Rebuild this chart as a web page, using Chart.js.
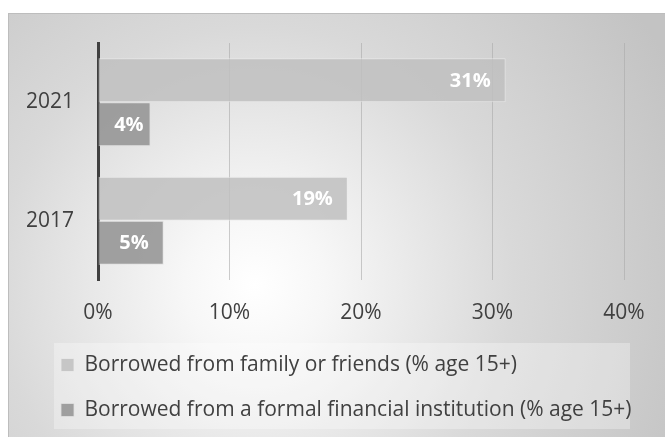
<!DOCTYPE html>
<html>
<head>
<meta charset="utf-8">
<script src="https://cdn.jsdelivr.net/npm/chart.js@4/dist/chart.umd.min.js"></script>
<style>
  html, body { margin: 0; padding: 0; background: #fff; }
  #wrap { width: 665px; height: 437px; position: relative; }
</style>
</head>
<body>
<div id="wrap"><canvas id="borrowChart" width="665" height="437"></canvas></div>
<script>
// Chart data
const years = ['2021', '2017'];
const familyFriends = [31, 19];
const formalInstitution = [4, 5];
const seriesNames = [
  'Borrowed from family or friends (% age 15+)',
  'Borrowed from a formal financial institution (% age 15+)'
];
const xTicks = [0, 10, 20, 30, 40];

const FONT = '"Open Sans", Lato, sans-serif';
const LEGEND_PAD = 24;

// grey panel with radial gradient behind everything
const panelBg = {
  id: 'panelBg',
  afterLayout(chart) {
    // push the legend rows right so they line up under the plot
    const lg = chart.legend;
    lg.left += 21;
    lg.right += 21;
  },
  beforeDraw(chart) {
    const ctx = chart.ctx;
    ctx.save();
    const g = ctx.createRadialGradient(255, 285, 0, 255, 285, 470);
    g.addColorStop(0, '#ffffff');
    g.addColorStop(0.15, '#f7f7f7');
    g.addColorStop(0.55, '#d9d9d9');
    g.addColorStop(1, '#c3c3c3');
    ctx.fillStyle = g;
    ctx.fillRect(8, 13, chart.width - 8, chart.height - 13);
    ctx.strokeStyle = '#bdbdbd';
    ctx.lineWidth = 1;
    ctx.strokeRect(8.5, 13.5, chart.width + 10, chart.height + 10);

    // legend frame
    ctx.fillStyle = 'rgba(255,255,255,0.3)';
    ctx.fillRect(54, 343, 576, 86);
    ctx.restore();
  }
};

// white value labels at inside end of bars
const barLabels = {
  id: 'barLabels',
  afterDatasetsDraw(chart) {
    const ctx = chart.ctx;
    ctx.save();
    ctx.font = 'bold 20px ' + FONT;
    ctx.fillStyle = '#ffffff';
    ctx.textAlign = 'right';
    ctx.textBaseline = 'middle';
    chart.data.datasets.forEach((ds, i) => {
      chart.getDatasetMeta(i).data.forEach((bar, j) => {
        const w = bar.x - bar.base;
        const x = w > 60 ? bar.x - 15 : bar.x - 7;
        ctx.fillText(ds.data[j] + '%', x, bar.y + 1);
      });
    });
    ctx.restore();
  }
};

new Chart(document.getElementById('borrowChart'), {
  type: 'bar',
  data: {
    labels: years,
    datasets: [
      {
        label: seriesNames[0],
        data: familyFriends,
        backgroundColor: 'rgba(192,192,192,0.85)',
        borderColor: 'rgba(235,235,235,0.8)',
        borderWidth: 1,
        categoryPercentage: 0.743,
        barPercentage: 1
      },
      {
        label: seriesNames[1],
        data: formalInstitution,
        backgroundColor: 'rgba(148,148,148,0.88)',
        borderColor: 'rgba(225,225,225,0.8)',
        borderWidth: 1,
        categoryPercentage: 0.743,
        barPercentage: 1
      }
    ]
  },
  options: {
    indexAxis: 'y',
    responsive: false,
    animation: false,
    devicePixelRatio: 1,
    layout: { padding: { left: 16, right: 41, top: 43, bottom: 6.5 } },
    scales: {
      x: {
        min: 0,
        max: 40,
        afterBuildTicks(scale) { scale.ticks = xTicks.map(v => ({ value: v })); },
        afterFit(scale) { scale.height = 50.5; },
        grid: { color: 'rgba(170,170,170,0.6)', lineWidth: 1, drawTicks: false },
        border: { display: false },
        ticks: {
          padding: 20,
          color: '#404040',
          font: { family: FONT, size: 21 },
          callback: v => v + '%'
        }
      },
      y: {
        afterFit(scale) { scale.width = 82; },
        grid: { display: false, drawTicks: false },
        border: { color: '#404040', width: 3 },
        ticks: {
          padding: 24,
          color: '#404040',
          font: { family: FONT, size: 21 }
        }
      }
    },
    plugins: {
      legend: {
        position: 'bottom',
        align: 'start',
        labels: {
          boxWidth: 13,
          boxHeight: 13,
          padding: LEGEND_PAD,
          color: '#404040',
          font: { family: FONT, size: 21 }
        }
      },
      tooltip: { enabled: false }
    }
  },
  plugins: [panelBg, barLabels]
});
</script>
</body>
</html>
